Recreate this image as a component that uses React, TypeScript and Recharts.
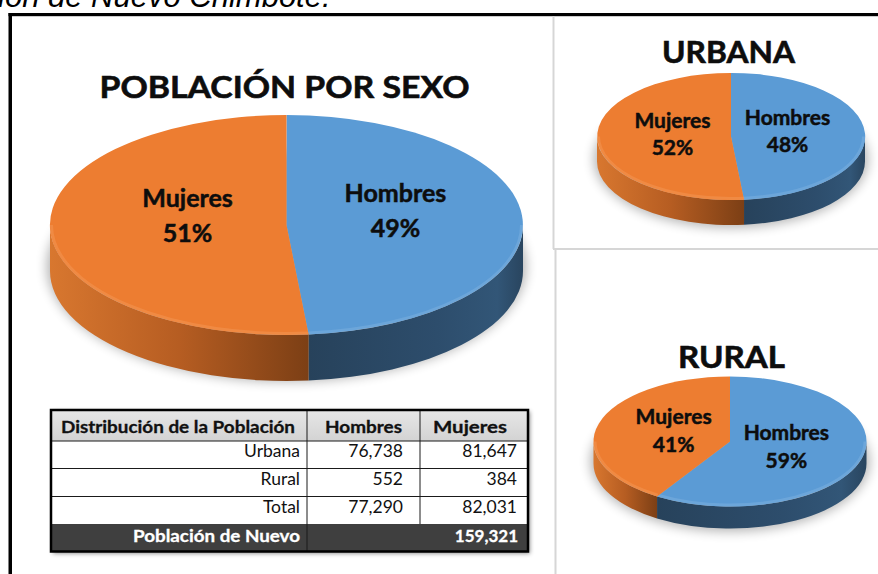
import React from 'react';
import { PieChart, Pie } from 'recharts';

// ---------------- data ----------------
const sexos = ['Hombres', 'Mujeres'];
const totalValues = [77290, 82031];
const urbanaValues = [76738, 81647];
const ruralValues = [552, 384];
const grandTotal = 159321;
const chartTitles = ['POBLACIÓN POR SEXO', 'URBANA', 'RURAL'];
const tableHeader = ['Distribución de la Población', 'Hombres', 'Mujeres'];
const tableRowLabels = ['Urbana', 'Rural', 'Total'];
const tableRowValues = [urbanaValues, ruralValues, totalValues];
const footerLabel = 'Población de Nuevo';
const headingText = 'ión de Nuevo Chimbote.';

// ---------------- styles ----------------
const topColors = ['#5B9BD5', '#ED7D31'];
const rimColors = ['#8cbbe6', '#f6a266'];

const mkData = (vals: number[]) => sexos.map((s, i) => ({ name: s, value: vals[i] }));

const pieConfigs = [
  { key: 'main', data: mkData(totalValues), cx: 286.5, cy: 225, r: 236.5, tilt: 0.465, depth: 46, labelK: 0.44, labelDx: 5, labelDy: -12, fontSize: 25, gap: 35 },
  { key: 'urb', data: mkData(urbanaValues), cx: 731, cy: 136.5, r: 134, tilt: 0.474, depth: 25, labelK: 0.43, labelDx: -1, labelDy: -4, fontSize: 21, gap: 27 },
  { key: 'rur', data: mkData(ruralValues), cx: 730, cy: 441.5, r: 136.5, tilt: 0.476, depth: 22, labelK: 0.43, labelDx: 0, labelDy: -3, fontSize: 21, gap: 28 },
];

const titleConfigs = [
  { x: 284.5, y: 98, w: 370, size: 31 },
  { x: 728.5, y: 63, w: 133, size: 31 },
  { x: 731.5, y: 368, w: 107, size: 30 },
];

const RAD = Math.PI / 180;
const pt = (cx: number, cy: number, rx: number, ry: number, a: number, dy = 0) =>
  `${(cx + rx * Math.cos(a * RAD)).toFixed(2)},${(cy - ry * Math.sin(a * RAD) + dy).toFixed(2)}`;

function frontSegments(sa: number, ea: number) {
  const lo = Math.min(sa, ea);
  const hi = Math.max(sa, ea);
  const segs: number[][] = [];
  for (let k = -2; k <= 2; k++) {
    const p = Math.max(lo, -180 + 360 * k);
    const q = Math.min(hi, 360 * k);
    if (q - p > 0.01) segs.push([p, q]);
  }
  return segs;
}

const fmt = (n: number) => String(n).replace(/\B(?=(\d{3})+(?!\d))/g, ',');

const makeSliceRenderer = (cfg: any) => (props: any) => {
  const { cx, cy, outerRadius, startAngle, endAngle, midAngle, percent, name, index } = props;
  const rx = outerRadius;
  const ry = outerRadius * cfg.tilt;
  const d = cfg.depth;
  const segs = frontSegments(startAngle, endAngle);
  const large = Math.abs(startAngle - endAngle) > 180 ? 1 : 0;
  const topPath = `M${cx},${cy} L${pt(cx, cy, rx, ry, startAngle)} A${rx},${ry} 0 ${large} 1 ${pt(cx, cy, rx, ry, endAngle)} Z`;
  const lx = cx + cfg.labelK * rx * Math.cos(midAngle * RAD) + cfg.labelDx;
  const ly = cy - cfg.labelK * ry * Math.sin(midAngle * RAD) + cfg.labelDy;
  const cap = cfg.fontSize * 0.7165;
  const b1 = ly + (cap - cfg.gap) / 2;
  const textProps = {
    textAnchor: 'middle' as const,
    fontFamily: 'Lato',
    fontWeight: 700,
    fontSize: cfg.fontSize,
    fill: '#0d0d0d',
    stroke: '#0d0d0d',
    strokeWidth: 0.5,
  };
  return (
    <g key={`slice-${cfg.key}-${index}`}>
      {index === 0 && (
        <ellipse cx={cx} cy={cy + d * 0.9} rx={rx + 3} ry={ry + 5} fill="#000" opacity={0.3} filter="url(#pieShadow)" />
      )}
      {segs.map(([p, q], i) => (
        <path
          key={`s${i}`}
          d={`M${pt(cx, cy, rx, ry, q)} A${rx},${ry} 0 0 1 ${pt(cx, cy, rx, ry, p)} L${pt(cx, cy, rx, ry, p, d)} A${rx},${ry} 0 0 0 ${pt(cx, cy, rx, ry, q, d)} Z`}
          fill={`url(#side${index})`}
        />
      ))}
      <path d={topPath} fill={topColors[index]} />
      {segs.map(([p, q], i) => (
        <path
          key={`r${i}`}
          d={`M${pt(cx, cy, rx - 1.5, ry - 1.5, q)} A${rx - 1.5},${ry - 1.5} 0 0 1 ${pt(cx, cy, rx - 1.5, ry - 1.5, p)}`}
          fill="none"
          stroke={rimColors[index]}
          strokeWidth={3}
          opacity={0.35}
        />
      ))}
      <text x={lx} y={b1} {...textProps}>
        {name}
      </text>
      <text x={lx} y={b1 + cfg.gap} {...textProps}>
        {`${Math.round(percent * 100)}%`}
      </text>
    </g>
  );
};

const colX = [52, 307, 420, 527];

export default function App() {
  return (
    <div style={{ position: 'absolute', left: 0, top: 0, width: 878, height: 574, overflow: 'hidden', background: '#fff' }}>
      {/* background layer */}
      <svg width={878} height={574} style={{ position: 'absolute', left: 0, top: 0 }}>
        <defs>
          <filter id="pieShadow" x="-20%" y="-30%" width="140%" height="160%">
            <feGaussianBlur stdDeviation="6" />
          </filter>
          <linearGradient id="side1" x1="0" y1="0" x2="1" y2="0">
            <stop offset="0" stopColor="#d8772f" />
            <stop offset="0.5" stopColor="#b65d22" />
            <stop offset="1" stopColor="#7c3f15" />
          </linearGradient>
          <linearGradient id="side0" x1="0" y1="0" x2="1" y2="0">
            <stop offset="0" stopColor="#27425b" />
            <stop offset="0.6" stopColor="#2d4d6c" />
            <stop offset="0.88" stopColor="#325677" />
            <stop offset="1" stopColor="#29455f" />
          </linearGradient>
          <linearGradient id="hdrGrad" x1="0" y1="0" x2="0" y2="1">
            <stop offset="0" stopColor="#e6e6e6" />
            <stop offset="1" stopColor="#d3d3d3" />
          </linearGradient>
          <filter id="tblShadow" x="-5%" y="-10%" width="110%" height="125%">
            <feDropShadow dx="2" dy="2" stdDeviation="2" floodColor="#000" floodOpacity="0.45" />
          </filter>
        </defs>
        <text x={-2} y={7} fontFamily="Liberation Sans" fontStyle="italic" fontSize={31} fill="#000">
          {headingText}
        </text>
        <rect x={8.5} y={13} width={870} height={3.2} fill="#000" />
        <rect x={8.5} y={13} width={3.5} height={561} fill="#000" />
        <line x1={553.5} y1={16} x2={553.5} y2={249} stroke="#d6d6d6" strokeWidth={2} />
        <line x1={555.5} y1={249} x2={555.5} y2={574} stroke="#d6d6d6" strokeWidth={2} />
        <line x1={553} y1={249} x2={878} y2={249} stroke="#d6d6d6" strokeWidth={2} />
        {titleConfigs.map((t, i) => (
          <text
            key={i}
            x={t.x}
            y={t.y}
            textAnchor="middle"
            fontFamily="Lato"
            fontWeight={700}
            fontSize={t.size}
            fill="#0d0d0d"
            stroke="#0d0d0d"
            strokeWidth={0.6}
            textLength={t.w}
            lengthAdjust="spacingAndGlyphs"
          >
            {chartTitles[i]}
          </text>
        ))}
      </svg>

      {/* pies */}
      <div style={{ position: 'absolute', left: 0, top: 0 }}>
        <PieChart width={878} height={574} margin={{ top: 0, right: 0, bottom: 0, left: 0 }}>
          {pieConfigs.map((cfg) => (
            <Pie
              key={cfg.key}
              data={cfg.data}
              dataKey="value"
              nameKey="name"
              cx={cfg.cx}
              cy={cfg.cy}
              innerRadius={0}
              outerRadius={cfg.r}
              startAngle={90}
              endAngle={-270}
              fill="transparent"
              stroke="none"
              isAnimationActive={false}
              labelLine={false}
              label={makeSliceRenderer(cfg)}
            />
          ))}
        </PieChart>
      </div>

      {/* table */}
      <svg width={878} height={574} style={{ position: 'absolute', left: 0, top: 0, pointerEvents: 'none' }}>
        <rect x={51} y={409.5} width={477} height={142} fill="#fff" filter="url(#tblShadow)" />
        <rect x={52} y={411} width={475} height={30} fill="url(#hdrGrad)" />
        <rect x={52} y={524} width={475} height={27} fill="#3f3f3f" />
        {[441, 468.5, 496.5].map((y) => (
          <line key={y} x1={52} y1={y} x2={527} y2={y} stroke="#1a1a1a" strokeWidth={1} />
        ))}
        <line x1={colX[1]} y1={411} x2={colX[1]} y2={551} stroke="#1a1a1a" strokeWidth={1} />
        <line x1={colX[2]} y1={411} x2={colX[2]} y2={524} stroke="#1a1a1a" strokeWidth={1} />
        <rect x={51} y={410} width={477} height={141.5} fill="none" stroke="#000" strokeWidth={2.5} />
        <text x={61} y={433} fontFamily="Lato" fontWeight={700} fontSize={17} fill="#111" stroke="#111" strokeWidth={0.3} textLength={234} lengthAdjust="spacingAndGlyphs">
          {tableHeader[0]}
        </text>
        <text x={363.5} y={433} textAnchor="middle" fontFamily="Lato" fontWeight={700} fontSize={17} fill="#111" stroke="#111" strokeWidth={0.3} textLength={77} lengthAdjust="spacingAndGlyphs">
          {tableHeader[1]}
        </text>
        <text x={470} y={433} textAnchor="middle" fontFamily="Lato" fontWeight={700} fontSize={17} fill="#111" stroke="#111" strokeWidth={0.3} textLength={74} lengthAdjust="spacingAndGlyphs">
          {tableHeader[2]}
        </text>
        {tableRowLabels.map((lab, r) => {
          const base = [457, 485, 513][r];
          return (
            <g key={lab}>
              <text x={300} y={base} textAnchor="end" fontFamily="Lato" fontSize={17.5} fill="#111">
                {lab}
              </text>
              <text x={403} y={base} textAnchor="end" fontFamily="Lato" fontSize={17.5} fill="#111">
                {fmt(tableRowValues[r][0])}
              </text>
              <text x={517} y={base} textAnchor="end" fontFamily="Lato" fontSize={17.5} fill="#111">
                {fmt(tableRowValues[r][1])}
              </text>
            </g>
          );
        })}
        <text x={300} y={542} textAnchor="end" fontFamily="Lato" fontWeight={700} fontSize={17} fill="#fff" stroke="#fff" strokeWidth={0.3} textLength={167} lengthAdjust="spacingAndGlyphs">
          {footerLabel}
        </text>
        <text x={518} y={542} textAnchor="end" fontFamily="Lato" fontWeight={700} fontSize={17} fill="#fff" stroke="#fff" strokeWidth={0.3}>
          {fmt(grandTotal)}
        </text>
      </svg>
    </div>
  );
}
